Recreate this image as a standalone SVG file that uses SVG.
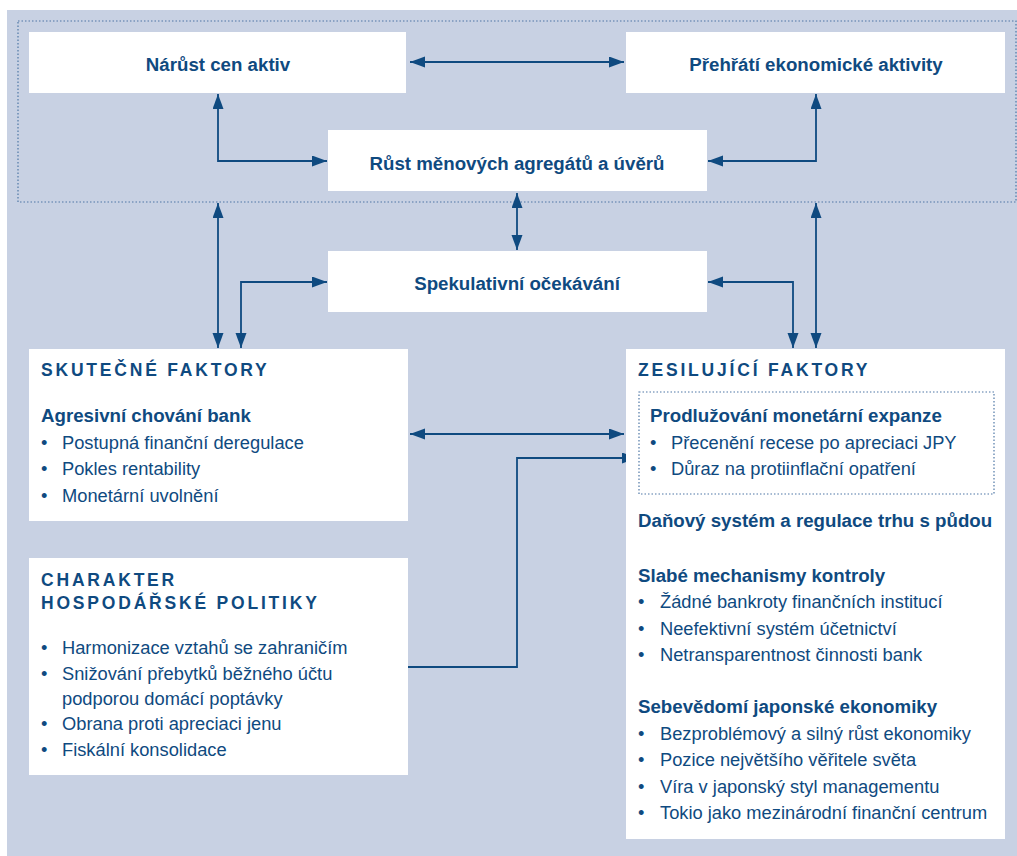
<svg xmlns="http://www.w3.org/2000/svg" width="1017" height="856" viewBox="0 0 1017 856">
<defs>
<style>
.box{fill:#ffffff}
text{font-family:"Liberation Sans",Arial,sans-serif;fill:#0f4a80}
.t{font-size:18.7px;font-weight:bold}
.c{text-anchor:middle}
.h{font-size:17.5px;font-weight:bold;letter-spacing:2.8px}
.b{font-size:18.3px}
.con{fill:none;stroke:#0f4a80;stroke-width:1.8}
.dot{fill:none;stroke:#4f77a6;stroke-width:1.2;stroke-dasharray:1.5 2}
</style>
<marker id="ah" markerUnits="userSpaceOnUse" markerWidth="16" markerHeight="12" refX="15" refY="5.5" orient="auto-start-reverse">
<path d="M0,0 L15,5.5 L0,11 z" fill="#0f4a80"/>
</marker>
</defs>
<rect x="7" y="10" width="1010" height="846" fill="#c8d1e3"/>
<rect class="dot" x="18" y="21" width="998" height="181"/>

<g id="connectors">
<line class="con" x1="410" y1="62" x2="624" y2="62" marker-start="url(#ah)" marker-end="url(#ah)"/>
<polyline class="con" points="218,94 218,161 327,161" marker-start="url(#ah)" marker-end="url(#ah)"/>
<polyline class="con" points="816,94 816,161 708,161" marker-start="url(#ah)" marker-end="url(#ah)"/>
<line class="con" x1="218" y1="203" x2="218" y2="348" marker-start="url(#ah)" marker-end="url(#ah)"/>
<polyline class="con" points="241,348 241,282 327,282" marker-start="url(#ah)" marker-end="url(#ah)"/>
<polyline class="con" points="708,282 793,282 793,348" marker-start="url(#ah)" marker-end="url(#ah)"/>
<line class="con" x1="816" y1="203" x2="816" y2="348" marker-start="url(#ah)" marker-end="url(#ah)"/>
<line class="con" x1="517" y1="193" x2="517" y2="250" marker-start="url(#ah)" marker-end="url(#ah)"/>
<line class="con" x1="410" y1="434" x2="624" y2="434" marker-start="url(#ah)" marker-end="url(#ah)"/>
<polyline class="con" points="408,667 517,667 517,458 637,458" marker-end="url(#ah)"/>
</g>

<g id="narust">
<rect class="box" x="29" y="32" width="377" height="61"/>
<text class="t c" x="218" y="71">Nárůst cen aktiv</text>
</g>
<g id="prehrati">
<rect class="box" x="626" y="32" width="379" height="61"/>
<text class="t c" x="816" y="71">Přehřátí ekonomické aktivity</text>
</g>
<g id="rust">
<rect class="box" x="328" y="130" width="379" height="61"/>
<text class="t c" x="517" y="170">Růst měnových agregátů a úvěrů</text>
</g>
<g id="spekulativni">
<rect class="box" x="328" y="251" width="379" height="61"/>
<text class="t c" x="517" y="290">Spekulativní očekávání</text>
</g>
<g id="skutecne">
<rect class="box" x="29" y="349" width="379" height="172"/>
<text class="h" x="41" y="376">SKUTEČNÉ FAKTORY</text>
<text class="t" x="41" y="422">Agresivní chování bank</text>
<text class="b" x="41" y="449">•</text><text class="b" x="62" y="449">Postupná finanční deregulace</text>
<text class="b" x="41" y="475">•</text><text class="b" x="62" y="475">Pokles rentability</text>
<text class="b" x="41" y="502">•</text><text class="b" x="62" y="502">Monetární uvolnění</text>
</g>
<g id="charakter">
<rect class="box" x="29" y="558" width="379" height="217"/>
<text class="h" x="41" y="586">CHARAKTER</text>
<text class="h" x="41" y="609">HOSPODÁŘSKÉ POLITIKY</text>
<text class="b" x="41" y="654">•</text><text class="b" x="62" y="654">Harmonizace vztahů se zahraničím</text>
<text class="b" x="41" y="680">•</text><text class="b" x="62" y="680">Snižování přebytků běžného účtu</text>
<text class="b" x="62" y="705">podporou domácí poptávky</text>
<text class="b" x="41" y="730">•</text><text class="b" x="62" y="730">Obrana proti apreciaci jenu</text>
<text class="b" x="41" y="756">•</text><text class="b" x="62" y="756">Fiskální konsolidace</text>
</g>
<g id="zesilujici">
<rect class="box" x="626" y="349" width="379" height="490"/>
<text class="h" x="638" y="376">ZESILUJÍCÍ FAKTORY</text>
<rect class="dot" x="639" y="392" width="355" height="102"/>
<text class="t" x="650" y="422">Prodlužování monetární expanze</text>
<text class="b" x="650" y="449">•</text><text class="b" x="671" y="449">Přecenění recese po apreciaci JPY</text>
<text class="b" x="650" y="475">•</text><text class="b" x="671" y="475">Důraz na protiinflační opatření</text>
<text class="t" x="638" y="527">Daňový systém a regulace trhu s půdou</text>
<text class="t" x="638" y="582">Slabé mechanismy kontroly</text>
<text class="b" x="638" y="608">•</text><text class="b" x="660" y="608">Žádné bankroty finančních institucí</text>
<text class="b" x="638" y="635">•</text><text class="b" x="660" y="635">Neefektivní systém účetnictví</text>
<text class="b" x="638" y="661">•</text><text class="b" x="660" y="661">Netransparentnost činnosti bank</text>
<text class="t" x="638" y="713">Sebevědomí japonské ekonomiky</text>
<text class="b" x="638" y="740">•</text><text class="b" x="660" y="740">Bezproblémový a silný růst ekonomiky</text>
<text class="b" x="638" y="766">•</text><text class="b" x="660" y="766">Pozice největšího věřitele světa</text>
<text class="b" x="638" y="793">•</text><text class="b" x="660" y="793">Víra v japonský styl managementu</text>
<text class="b" x="638" y="819">•</text><text class="b" x="660" y="819">Tokio jako mezinárodní finanční centrum</text>
</g>
</svg>
